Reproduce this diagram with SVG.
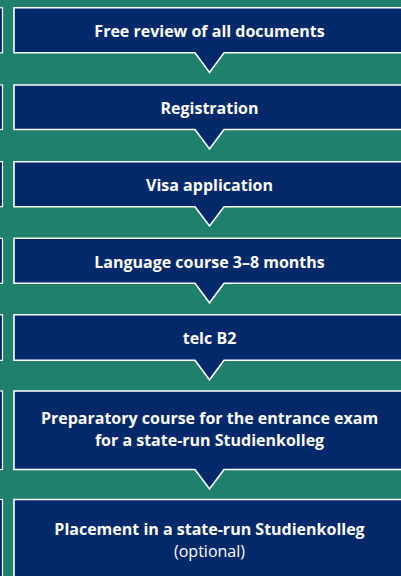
<svg xmlns="http://www.w3.org/2000/svg" width="401" height="576" viewBox="0 0 401 576">
  <style>
    .box { fill: #04296a; stroke: #ffffff; stroke-width: 1.6; }
    .side { fill: #04296a; stroke: #ffffff; stroke-width: 1.2; }
    .t { font-family: "Open Sans", "Noto Sans", "Liberation Sans", sans-serif; font-size: 16px; font-weight: bold; fill: #ffffff; text-anchor: middle; }
    .r { font-weight: normal; }
  </style>
  <rect x="0" y="0" width="401" height="576" fill="#1f806d"/>
  <g id="side">
    <rect class="side" x="-10" y="7.8" width="12.5" height="45"/>
    <rect class="side" x="-10" y="85" width="12.5" height="44.5"/>
    <rect class="side" x="-10" y="161.7" width="12.5" height="45"/>
    <rect class="side" x="-10" y="238.3" width="12.5" height="45"/>
    <rect class="side" x="-10" y="314.8" width="12.5" height="45.5"/>
    <rect class="side" x="-10" y="391" width="12.5" height="78.5"/>
    <rect class="side" x="-10" y="499.5" width="12.5" height="90"/>
  </g>
  <g id="connectors"></g>
  <g id="n1">
    <path class="box" d="M14,7.8 H410 V52.8 H224 L209.5,72.5 L195,52.8 H14 Z"/>
    <text class="t" x="209.5" y="36.5">Free review of all documents</text>
  </g>
  <g id="n2">
    <path class="box" d="M14,85 H410 V129.5 H224 L209.5,149 L195,129.5 H14 Z"/>
    <text class="t" x="209.5" y="113.5">Registration</text>
  </g>
  <g id="n3">
    <path class="box" d="M14,161.7 H410 V206.7 H224 L209.5,226 L195,206.7 H14 Z"/>
    <text class="t" x="209.5" y="190.5">Visa application</text>
  </g>
  <g id="n4">
    <path class="box" d="M14,238.3 H410 V283.3 H224 L209.5,302.8 L195,283.3 H14 Z"/>
    <text class="t" x="209.5" y="267.5">Language course 3–8 months</text>
  </g>
  <g id="n5">
    <path class="box" d="M14,314.8 H410 V360.3 H224 L209.5,379.8 L195,360.3 H14 Z"/>
    <text class="t" x="209.5" y="344">telc B2</text>
  </g>
  <g id="n6">
    <path class="box" d="M14,391 H410 V469.5 H224 L209.5,489 L195,469.5 H14 Z"/>
    <text class="t" x="209.5" y="424">Preparatory course for the entrance exam</text>
    <text class="t" x="209.5" y="445.7">for a state-run Studienkolleg</text>
  </g>
  <g id="n7">
    <path class="box" d="M14,499.5 H410 V590 H14 Z"/>
    <text class="t" x="209.5" y="535">Placement in a state-run Studienkolleg</text>
    <text class="t r" x="209.5" y="556.5">(optional)</text>
  </g>
</svg>
